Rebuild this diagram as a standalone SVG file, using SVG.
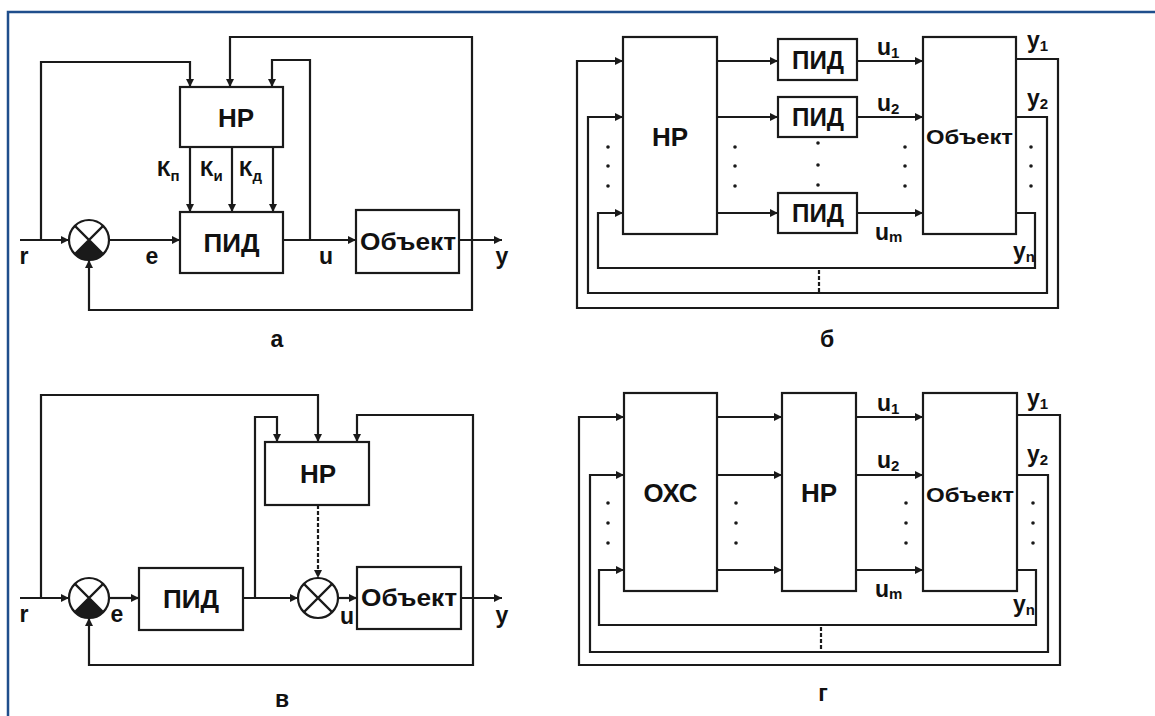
<svg xmlns="http://www.w3.org/2000/svg" width="1155" height="716" viewBox="0 0 1155 716">
<defs>
<marker id="ar" viewBox="0 0 10 10" refX="10" refY="5" markerWidth="11" markerHeight="8" markerUnits="userSpaceOnUse" orient="auto">
<path d="M0,0 L10,5 L0,10 Z" fill="#1a1a1a"/>
</marker>
</defs>
<style>
.bx{fill:#fff;stroke:#1a1a1a;stroke-width:2.2}
.ln{fill:none;stroke:#1a1a1a;stroke-width:2.2}
.da{fill:none;stroke:#1a1a1a;stroke-width:2.2;stroke-dasharray:4 2}
.t{font-family:"Liberation Sans",Arial,sans-serif;font-weight:bold;fill:#111}
.hp{font-size:26px}
.pid{font-size:25px}
.ob{font-size:24px}
.ob2{font-size:21px}
.lbl{font-size:23px}
.k{font-size:22px}
.sub{font-size:15px}
.dot{fill:#1a1a1a}
.frame{stroke:#1f4e8c;stroke-width:2.5;fill:none}
</style>
<rect width="1155" height="716" fill="#fff"/>
<path class="frame" d="M8,716 L8,12 L1155,12"/>

<!-- ===== Diagram a ===== -->
<g id="a-connectors">
<path class="ln" d="M20,240 L69,240" marker-end="url(#ar)"/>
<path class="ln" d="M41,240 L41,62 L190,62 L190,87" marker-end="url(#ar)"/>
<path class="ln" d="M109,240 L180,240" marker-end="url(#ar)"/>
<path class="ln" d="M283,240 L356,240" marker-end="url(#ar)"/>
<path class="ln" d="M310,240 L310,60 L272,60 L272,87" marker-end="url(#ar)"/>
<path class="ln" d="M459,240 L502,240" marker-end="url(#ar)"/>
<path class="ln" d="M472,240 L472,37 L230,37 L230,87" marker-end="url(#ar)"/>
<path class="ln" d="M472,240 L472,310 L89,310 L89,260" marker-end="url(#ar)"/>
<path class="ln" d="M190,147 L190,212" marker-end="url(#ar)"/>
<path class="ln" d="M232,147 L232,212" marker-end="url(#ar)"/>
<path class="ln" d="M273,147 L273,212" marker-end="url(#ar)"/>
</g>
<g id="a-sum">
<circle cx="89" cy="240" r="20" class="bx"/>
<path d="M89,240 L74.9,254.1 A20,20 0 0 0 103.1,254.1 Z" fill="#1a1a1a"/>
<path class="ln" d="M74.9,225.9 L103.1,254.1 M103.1,225.9 L74.9,254.1"/>
</g>
<g id="a-hp"><rect class="bx" x="180" y="87" width="103" height="60"/><text class="t hp" x="236" y="127" text-anchor="middle">НР</text></g>
<g id="a-pid"><rect class="bx" x="180" y="212" width="103" height="61"/><text class="t pid" x="231.5" y="252" text-anchor="middle" textLength="56" lengthAdjust="spacingAndGlyphs">ПИД</text></g>
<g id="a-obj"><rect class="bx" x="356" y="210" width="103" height="63"/><text class="t ob" x="408" y="250" text-anchor="middle" textLength="96" lengthAdjust="spacingAndGlyphs">Объект</text></g>
<g id="a-labels">
<text class="t k" x="157" y="176">К<tspan class="sub" dy="5">п</tspan></text>
<text class="t k" x="200" y="176">К<tspan class="sub" dy="5">и</tspan></text>
<text class="t k" x="239" y="176">К<tspan class="sub" dy="5">д</tspan></text>
<text class="t lbl" x="24" y="264" text-anchor="middle">r</text>
<text class="t lbl" x="152" y="264" text-anchor="middle">e</text>
<text class="t lbl" x="326" y="264" text-anchor="middle">u</text>
<text class="t lbl" x="502" y="264" text-anchor="middle">y</text>
<text class="t lbl" x="277" y="347" text-anchor="middle">а</text>
</g>

<!-- ===== Diagram б ===== -->
<g id="b-connectors">
<path class="ln" d="M717,61 L778,61" marker-end="url(#ar)"/>
<path class="ln" d="M717,117 L778,117" marker-end="url(#ar)"/>
<path class="ln" d="M717,213 L778,213" marker-end="url(#ar)"/>
<path class="ln" d="M857,61 L923,61" marker-end="url(#ar)"/>
<path class="ln" d="M857,117 L923,117" marker-end="url(#ar)"/>
<path class="ln" d="M857,213 L923,213" marker-end="url(#ar)"/>
<path class="ln" d="M1016,59 L1058,59 L1058,308 L577,308 L577,61 L623,61" marker-end="url(#ar)"/>
<path class="ln" d="M1016,117 L1047,117 L1047,293 L588,293 L588,117 L623,117" marker-end="url(#ar)"/>
<path class="ln" d="M1016,213 L1035,213 L1035,268 L598,268 L598,213 L623,213" marker-end="url(#ar)"/>
<path class="da" d="M819,270 L819,292" stroke-dasharray="3 3"/>
</g>
<g id="b-hp"><rect class="bx" x="623" y="37" width="94" height="197"/><text class="t hp" x="670" y="146" text-anchor="middle">НР</text></g>
<g id="b-pid1"><rect class="bx" x="778" y="39" width="79" height="41"/><text class="t pid" x="818" y="69" text-anchor="middle" textLength="52" lengthAdjust="spacingAndGlyphs">ПИД</text></g>
<g id="b-pid2"><rect class="bx" x="778" y="97" width="79" height="40"/><text class="t pid" x="818" y="126" text-anchor="middle" textLength="52" lengthAdjust="spacingAndGlyphs">ПИД</text></g>
<g id="b-pid3"><rect class="bx" x="778" y="193" width="79" height="40"/><text class="t pid" x="818" y="222" text-anchor="middle" textLength="52" lengthAdjust="spacingAndGlyphs">ПИД</text></g>
<g id="b-obj"><rect class="bx" x="923" y="37" width="93" height="197"/><text class="t ob2" x="969.5" y="144" text-anchor="middle" textLength="87" lengthAdjust="spacingAndGlyphs">Объект</text></g>
<g id="b-dots">
<circle class="dot" cx="608" cy="147" r="1.8"/><circle class="dot" cx="608" cy="166" r="1.8"/><circle class="dot" cx="608" cy="186" r="1.8"/>
<circle class="dot" cx="735" cy="147" r="1.8"/><circle class="dot" cx="735" cy="166" r="1.8"/><circle class="dot" cx="735" cy="186" r="1.8"/>
<circle class="dot" cx="818" cy="143" r="1.8"/><circle class="dot" cx="818" cy="165" r="1.8"/><circle class="dot" cx="818" cy="185" r="1.8"/>
<circle class="dot" cx="905" cy="147" r="1.8"/><circle class="dot" cx="905" cy="166" r="1.8"/><circle class="dot" cx="905" cy="186" r="1.8"/>
<circle class="dot" cx="1031" cy="147" r="1.8"/><circle class="dot" cx="1031" cy="166" r="1.8"/><circle class="dot" cx="1031" cy="186" r="1.8"/>
</g>
<g id="b-labels">
<text class="t lbl" x="877" y="55">u<tspan class="sub" dy="3">1</tspan></text>
<text class="t lbl" x="877" y="111">u<tspan class="sub" dy="3">2</tspan></text>
<text class="t lbl" x="875" y="240">u<tspan class="sub" dy="2">m</tspan></text>
<text class="t lbl" x="1027" y="48">y<tspan class="sub" dy="3">1</tspan></text>
<text class="t lbl" x="1027" y="106">y<tspan class="sub" dy="3">2</tspan></text>
<text class="t lbl" x="1013" y="259">y<tspan class="sub" dy="3">n</tspan></text>
<text class="t lbl" x="827" y="347" text-anchor="middle">б</text>
</g>

<!-- ===== Diagram в ===== -->
<g id="c-connectors">
<path class="ln" d="M20,598 L69,598" marker-end="url(#ar)"/>
<path class="ln" d="M41,598 L41,395 L318,395 L318,442" marker-end="url(#ar)"/>
<path class="ln" d="M109,598 L139,598" marker-end="url(#ar)"/>
<path class="ln" d="M243,598 L298,598" marker-end="url(#ar)"/>
<path class="ln" d="M255,598 L255,417 L277,417 L277,442" marker-end="url(#ar)"/>
<path class="da" d="M318,505 L318,578" marker-end="url(#ar)"/>
<path class="ln" d="M338,598 L357,598" marker-end="url(#ar)"/>
<path class="ln" d="M461,598 L502,598" marker-end="url(#ar)"/>
<path class="ln" d="M473,598 L473,415 L357,415 L357,442" marker-end="url(#ar)"/>
<path class="ln" d="M473,598 L473,665 L89,665 L89,618" marker-end="url(#ar)"/>
</g>
<g id="c-sum1">
<circle cx="89" cy="598" r="20" class="bx"/>
<path d="M89,598 L74.9,612.1 A20,20 0 0 0 103.1,612.1 Z" fill="#1a1a1a"/>
<path class="ln" d="M74.9,583.9 L103.1,612.1 M103.1,583.9 L74.9,612.1"/>
</g>
<g id="c-sum2">
<circle cx="318" cy="598" r="20" class="bx"/>
<path class="ln" d="M303.9,583.9 L332.1,612.1 M332.1,583.9 L303.9,612.1"/>
</g>
<g id="c-pid"><rect class="bx" x="139" y="568" width="104" height="62"/><text class="t pid" x="191" y="608" text-anchor="middle" textLength="56" lengthAdjust="spacingAndGlyphs">ПИД</text></g>
<g id="c-hp"><rect class="bx" x="265" y="442" width="104" height="63"/><text class="t hp" x="318" y="483" text-anchor="middle">НР</text></g>
<g id="c-obj"><rect class="bx" x="357" y="567" width="104" height="62"/><text class="t ob" x="409" y="606" text-anchor="middle" textLength="96" lengthAdjust="spacingAndGlyphs">Объект</text></g>
<g id="c-labels">
<text class="t lbl" x="24" y="622" text-anchor="middle">r</text>
<text class="t lbl" x="117" y="622" text-anchor="middle">e</text>
<text class="t lbl" x="347" y="624" text-anchor="middle">u</text>
<text class="t lbl" x="502" y="623" text-anchor="middle">y</text>
<text class="t lbl" x="282" y="707" text-anchor="middle">в</text>
</g>

<!-- ===== Diagram г ===== -->
<g id="d-connectors">
<path class="ln" d="M717,417 L782,417" marker-end="url(#ar)"/>
<path class="ln" d="M717,475 L782,475" marker-end="url(#ar)"/>
<path class="ln" d="M717,570 L782,570" marker-end="url(#ar)"/>
<path class="ln" d="M856,417 L923,417" marker-end="url(#ar)"/>
<path class="ln" d="M856,475 L923,475" marker-end="url(#ar)"/>
<path class="ln" d="M856,570 L923,570" marker-end="url(#ar)"/>
<path class="ln" d="M1017,415 L1060,415 L1060,665 L579,665 L579,417 L624,417" marker-end="url(#ar)"/>
<path class="ln" d="M1017,475 L1048,475 L1048,652 L590,652 L590,475 L624,475" marker-end="url(#ar)"/>
<path class="ln" d="M1017,570 L1036,570 L1036,625 L599,625 L599,570 L624,570" marker-end="url(#ar)"/>
<path class="da" d="M821,627 L821,651" stroke-dasharray="3 3"/>
</g>
<g id="d-oxc"><rect class="bx" x="624" y="393" width="93" height="198"/><text class="t hp" x="670.5" y="502" text-anchor="middle" textLength="54" lengthAdjust="spacingAndGlyphs">ОХС</text></g>
<g id="d-hp"><rect class="bx" x="782" y="393" width="74" height="198"/><text class="t hp" x="819" y="502" text-anchor="middle">НР</text></g>
<g id="d-obj"><rect class="bx" x="923" y="393" width="94" height="198"/><text class="t ob2" x="970" y="502" text-anchor="middle" textLength="88" lengthAdjust="spacingAndGlyphs">Объект</text></g>
<g id="d-dots">
<circle class="dot" cx="608" cy="503" r="1.8"/><circle class="dot" cx="608" cy="523" r="1.8"/><circle class="dot" cx="608" cy="543" r="1.8"/>
<circle class="dot" cx="736" cy="503" r="1.8"/><circle class="dot" cx="736" cy="523" r="1.8"/><circle class="dot" cx="736" cy="543" r="1.8"/>
<circle class="dot" cx="906" cy="503" r="1.8"/><circle class="dot" cx="906" cy="523" r="1.8"/><circle class="dot" cx="906" cy="543" r="1.8"/>
<circle class="dot" cx="1033" cy="503" r="1.8"/><circle class="dot" cx="1033" cy="523" r="1.8"/><circle class="dot" cx="1033" cy="543" r="1.8"/>
</g>
<g id="d-labels">
<text class="t lbl" x="877" y="411">u<tspan class="sub" dy="3">1</tspan></text>
<text class="t lbl" x="877" y="468">u<tspan class="sub" dy="3">2</tspan></text>
<text class="t lbl" x="875" y="597">u<tspan class="sub" dy="2">m</tspan></text>
<text class="t lbl" x="1027" y="406">y<tspan class="sub" dy="3">1</tspan></text>
<text class="t lbl" x="1027" y="462">y<tspan class="sub" dy="3">2</tspan></text>
<text class="t lbl" x="1013" y="612">y<tspan class="sub" dy="3">n</tspan></text>
<text class="t lbl" x="823" y="701" text-anchor="middle">г</text>
</g>
</svg>
